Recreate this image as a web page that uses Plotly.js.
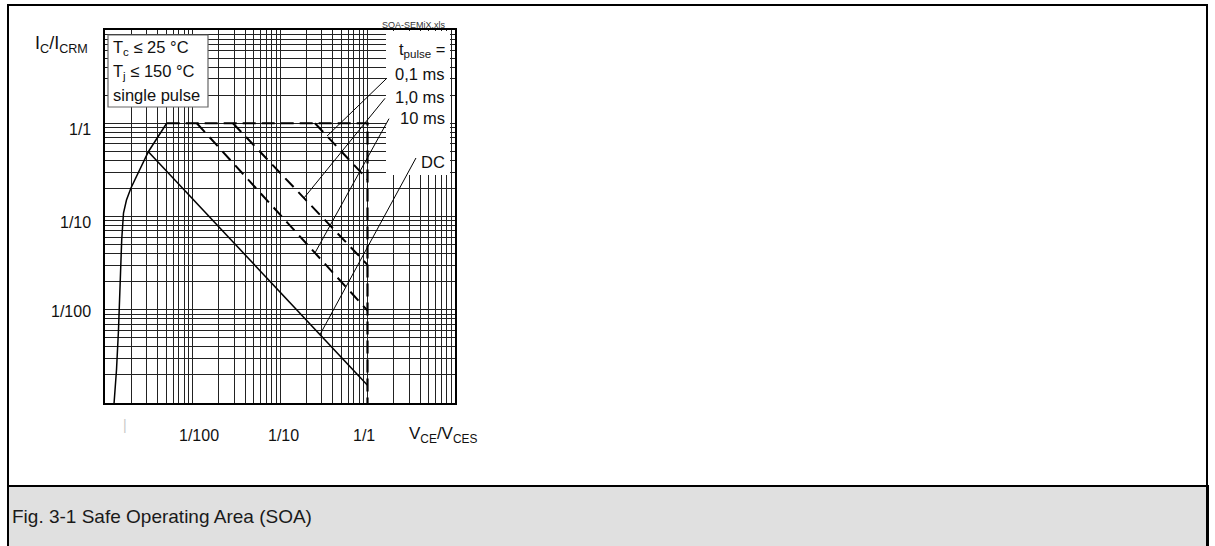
<!DOCTYPE html>
<html>
<head>
<meta charset="utf-8">
<script src="https://cdn.plot.ly/plotly-3.0.1.min.js"></script>
<style>html,body{margin:0;padding:0;background:#fff;}#chart{width:1215px;height:546px;}</style>
</head>
<body>
<div id="chart"></div>
<script>
// ---- data (log-log, normalised) ----
const decades = [0.001, 0.01, 0.1, 1];
const gridDigits = [1, 2, 3, 4, 5, 6, 7, 8, 9];

// rising limit (solid)
const envX = [0.00127, 0.001353, 0.001426, 0.001496, 0.001552, 0.001627, 0.00176, 0.00198, 0.00313, 0.00507];
const envY = [0.001, 0.00226, 0.00607, 0.0208, 0.056, 0.109, 0.150, 0.202, 0.495, 1.0];
// current / voltage limit (dashed)
const limX = [0.00507, 1, 1];
const limY = [1, 1, 0.001];
// pulse curves (dashed)
const p01X = [0.251, 1];   const p01Y = [1, 0.25];
const p1X  = [0.029, 1];   const p1Y  = [1, 0.0303];
const p10X = [0.0112, 1];  const p10Y = [1, 0.0098];
// DC (solid)
const dcX = [0.00313, 1];  const dcY = [0.495, 0.00155];
// callout leader lines
const c01X = [1.67, 0.3445];  const c01Y = [3.05, 0.7286];
const c1X  = [1.585, 0.188];  const c1Y  = [1.85, 0.158];
const c10X = [1.761, 0.251];  const c10Y = [1.12, 0.0407];
const cdcX = [3.58, 0.2864];  const cdcY = [0.424, 0.00541];

const xTickLabels = ['1/100', '1/10', '1/1'];
const yTickLabels = ['1/1', '1/10', '1/100'];
const pulseLabels = ['0,1 ms', '1,0 ms', '10 ms', 'DC'];
const condLabels = ['T<sub>c</sub> ≤ 25 °C', 'T<sub>j</sub> ≤ 150 °C', 'single pulse'];

// ---- layout helpers (pixel -> paper / data) ----
const L = 105, R = 455, T = 30, B = 403;
const px = v => (v - L) / (R - L);
const py = v => (B - v) / (B - T);
const pxData = v => Math.pow(10, -3 + 4 * px(v));
const pyData = v => Math.pow(10, -3 + 4 * py(v));

const tickvals = [];
decades.forEach(d => gridDigits.forEach(k => tickvals.push(+(k * d).toPrecision(3))));
tickvals.push(10);

const FONT = 'Liberation Sans, Arial, Helvetica, sans-serif';
const solid = {color: '#000', width: 1.5};
const dashed = {color: '#000', width: 2, dash: '12px,7px'};
const thin = {color: '#000', width: 1};

// white panel behind the pulse labels (hides the grid there)
const bx = [pxData(386), pxData(450), pxData(450), pxData(386), pxData(386)];
const by = [pyData(31), pyData(31), pyData(175), pyData(175), pyData(31)];

const traces = [
  {x: bx, y: by, mode: 'lines', fill: 'toself', fillcolor: '#fff', line: {width: 0, color: 'rgba(0,0,0,0)'}},
  {x: envX, y: envY, mode: 'lines', line: solid},
  {x: limX, y: limY, mode: 'lines', line: {color: '#000', width: 2.2, dash: '13px,6px'}},
  {x: p01X, y: p01Y, mode: 'lines', line: dashed},
  {x: p1X, y: p1Y, mode: 'lines', line: dashed},
  {x: p10X, y: p10Y, mode: 'lines', line: dashed},
  {x: dcX, y: dcY, mode: 'lines', line: solid},
  {x: c01X, y: c01Y, mode: 'lines', line: thin},
  {x: c1X, y: c1Y, mode: 'lines', line: thin},
  {x: c10X, y: c10Y, mode: 'lines', line: thin},
  {x: cdcX, y: cdcY, mode: 'lines', line: thin}
].map(t => Object.assign({type: 'scatter', hoverinfo: 'skip', showlegend: false}, t));

const axisBase = {
  type: 'log', range: [-3, 1], tickmode: 'array', tickvals: tickvals, ticks: '', showticklabels: false,
  showgrid: true, gridcolor: '#222', gridwidth: 1, zeroline: false,
  showline: true, mirror: true, linecolor: '#000', linewidth: 2, fixedrange: true
};

const ann = [];
const txt = (o) => ann.push(Object.assign({showarrow: false, font: {family: FONT, size: 16, color: '#111'}}, o));

// y tick labels
const yShift = [-6, -6, -2];
yTickLabels.forEach((t, i) => txt({text: t, xref: 'paper', yref: 'y', x: px(93), y: -i, xanchor: 'right', yanchor: 'middle', yshift: yShift[i]}));
// x tick labels
const xShift = [6, 3, -4];
xTickLabels.forEach((t, i) => txt({text: t, xref: 'x', yref: 'paper', x: -2 + i, y: py(435), xanchor: 'center', yanchor: 'middle', xshift: xShift[i]}));
txt({text: '|', xref: 'paper', yref: 'paper', x: px(121), y: py(435), font: {family: FONT, size: 14, color: '#c8c8c8'}});
// axis titles
txt({text: 'I<sub>C</sub>/I<sub>CRM</sub>', xref: 'paper', yref: 'paper', x: px(33), y: py(44), xanchor: 'left', yanchor: 'middle', font: {family: FONT, size: 18, color: '#111'}});
txt({text: 'V<sub>CE</sub>/V<sub>CES</sub>', xref: 'paper', yref: 'paper', x: px(407), y: py(435), xanchor: 'left', yanchor: 'middle', font: {family: FONT, size: 17, color: '#111'}});
// file tag
txt({text: 'SOA-SEMiX.xls', xref: 'paper', yref: 'paper', x: px(448), y: py(25), xanchor: 'right', yanchor: 'middle', font: {family: FONT, size: 9, color: '#333'}});
// condition box text
const condY = [48, 72, 95];
condLabels.forEach((t, i) => txt({text: t, xref: 'paper', yref: 'paper', x: px(111), y: py(condY[i]), xanchor: 'left', yanchor: 'middle', font: {family: FONT, size: 16.5, color: '#111'}}));
// pulse labels
txt({text: 't<sub>pulse</sub> =', xref: 'paper', yref: 'paper', x: px(447), y: py(50), xanchor: 'right', yanchor: 'middle', font: {family: FONT, size: 16.5, color: '#111'}});
const pulseY = [74, 97, 118, 162];
pulseLabels.forEach((t, i) => txt({text: t, xref: 'paper', yref: 'paper', x: px(447), y: py(pulseY[i]), xanchor: 'right', yanchor: 'middle', font: {family: FONT, size: 16.5, color: '#111'}}));
// caption
txt({text: 'Fig. 3-1 Safe Operating Area (SOA)', xref: 'paper', yref: 'paper', x: px(10), y: py(516), xanchor: 'left', yanchor: 'middle', font: {family: FONT, size: 19, color: '#1a1a1a'}});

const shapes = [
  // grey caption band
  {type: 'rect', xref: 'paper', yref: 'paper', x0: px(8), x1: px(1208), y0: py(486), y1: py(548), fillcolor: '#e0e0e0', line: {color: '#000', width: 2}, layer: 'below'},
  // outer frame
  {type: 'rect', xref: 'paper', yref: 'paper', x0: px(8), x1: px(1207), y0: py(5), y1: py(548), line: {color: '#000', width: 2}, layer: 'above'},
  // condition box
  {type: 'rect', xref: 'paper', yref: 'paper', x0: px(108), x1: px(208), y0: py(35), y1: py(107), fillcolor: '#fff', line: {color: '#666', width: 1.2}, layer: 'above'}
];

const layout = {
  width: 1215, height: 546,
  margin: {l: L, r: 1215 - R, t: T, b: 546 - B, pad: 0},
  paper_bgcolor: '#fff', plot_bgcolor: '#fff',
  font: {family: FONT, size: 16, color: '#111'},
  showlegend: false,
  xaxis: Object.assign({}, axisBase),
  yaxis: Object.assign({}, axisBase),
  annotations: ann,
  shapes: shapes
};

Plotly.newPlot('chart', traces, layout, {displayModeBar: false, staticPlot: true});
</script>
</body>
</html>
